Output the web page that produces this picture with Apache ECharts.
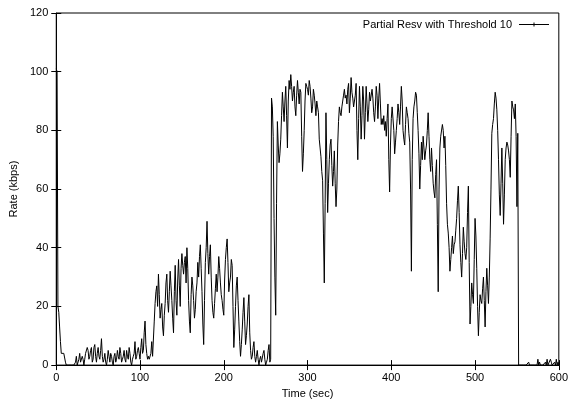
<!DOCTYPE html>
<html>
<head>
<meta charset="utf-8">
<script src="https://cdn.jsdelivr.net/npm/echarts@6/dist/echarts.min.js"></script>
<style>
  html, body { margin: 0; padding: 0; background: #fff; }
  #chart { width: 571px; height: 404px; }
</style>
</head>
<body>
<div id="chart"></div>
<script>
// Receive rate (kbps), one sample per second starting at t = 0 s
const sampleIntervalSec = 1;
const rates = [
  101,100,20,18,13,8,4,4,4,4,          // 0-9
  4,1,0,0,0,0,0,0,0,0,                 // 10-19
  0,0,0,1,3,0,0,2,4,1,                 // 20-29
  1,3,2,0,2,4,4,6,5,2,                 // 30-39
  3,5,6,1,2,6,7,3,1,4,                 // 40-49
  6,3,2,5,9,3,1,2,4,1,                 // 50-59
  0,2,5,3,1,4,3,1,0,3,                 // 60-69
  4,1,2,5,3,2,6,4,1,2,                 // 70-79
  3,5,2,1,5,3,2,6,4,1,                 // 80-89
  0,2,3,4,8,2,3,5,6,4,                 // 90-99
  2,6,9,4,5,11,15,7,4,2,               // 100-109
  3,2,2,4,8,3,3,15,21,25,              // 110-119
  27,20,31,24,16,19,21,13,10,17,       // 120-129
  21,28,31,22,18,25,32,27,22,16,       // 130-139
  11,25,34,22,17,29,36,27,20,33,       // 140-149
  38,34,31,35,37,28,40,33,22,15,       // 150-159
  11,24,30,27,22,16,19,25,28,35,       // 160-169
  30,37,41,33,25,14,7,22,35,40,        // 170-179
  49,38,31,37,41,30,22,18,16,21,       // 180-189
  26,31,25,30,37,33,28,24,22,19,       // 190-199
  17,29,36,40,43,35,25,28,30,36,       // 200-209
  34,20,6,12,20,27,30,22,15,8,         // 210-219
  3,7,12,18,23,15,7,10,14,20,          // 220-229
  24,11,5,2,3,6,8,3,1,3,               // 230-239
  5,2,0,2,3,1,1,4,5,2,                 // 240-249
  0,1,2,5,7,1,2,91,88,78,              // 250-259
  50,30,17,55,83,75,69,72,77,85,       // 260-269
  93,88,83,90,95,85,74,90,97,94,       // 270-279
  99,95,90,93,95,88,85,92,97,93,       // 280-289
  89,94,93,78,66,72,80,90,96,95,       // 290-299
  94,92,97,95,91,86,88,94,92,89,       // 300-309
  85,90,88,86,77,74,71,66,63,45,       // 310-319
  28,55,86,70,52,62,70,75,77,68,       // 320-329
  61,66,73,62,54,60,75,83,88,86,       // 330-339
  85,88,90,92,94,91,92,89,94,96,       // 340-349
  86,91,98,93,91,88,88,92,96,80,       // 350-359
  70,84,95,88,77,85,95,90,77,86,       // 360-369
  95,89,83,87,93,90,90,94,91,86,       // 370-379
  83,88,95,92,84,91,96,89,82,84,       // 380-389
  82,85,80,83,78,84,89,70,59,75,       // 390-399
  84,88,88,80,72,76,80,84,89,86,       // 400-409
  82,88,95,90,80,77,75,82,88,86,       // 410-419
  84,79,76,60,32,70,84,88,90,93,       // 420-429
  92,86,80,72,60,68,76,70,78,74,       // 430-439
  70,73,75,80,86,78,70,66,74,68,       // 440-449
  62,59,57,65,70,48,25,60,74,78,       // 450-459
  78,82,80,74,78,68,55,48,45,40,       // 460-469
  32,36,40,44,38,41,42,46,50,56,       // 470-479
  61,52,41,35,30,38,47,42,38,36,       // 480-489
  40,52,61,35,14,20,28,24,21,36,       // 490-499
  50,44,33,20,10,18,24,22,21,26,       // 500-509
  30,22,13,25,33,27,21,30,43,60,       // 510-519
  79,82,84,89,93,91,87,80,70,58,       // 520-529
  51,62,74,62,48,58,70,74,76,75,       // 530-539
  73,70,64,78,90,88,87,84,89,78,       // 540-549
  54,79,0,0,0,0,0,0,0,0,               // 550-559
  0,0,0,0,1,0,0,0,0,0,                 // 560-569
  0,0,0,0,0,2,0,1,0,0,                 // 570-579
  0,0,0,0,1,0,2,0,0,0,                 // 580-589
  2,1,0,0,0,1,0,2,0,1,                 // 590-599
  0                                    // 600
];

const seriesName = 'Partial Resv with Threshold 10';
const yTicks = [0, 20, 40, 60, 80, 100, 120];
const xTicks = [0, 100, 200, 300, 400, 500, 600];

const points = rates.map((v, i) => [i * sampleIntervalSec, v]);

const font = 'Liberation Sans, Arial, Helvetica, sans-serif';
const chart = echarts.init(document.getElementById('chart'), null, { renderer: 'canvas' });

const tickStyle = { show: true, inside: true, length: 5, lineStyle: { color: '#000', width: 1 } };

chart.setOption({
  animation: false,
  backgroundColor: '#fff',
  textStyle: { fontFamily: font },
  grid: {
    left: 56, right: 7, top: 13, bottom: 35,
    show: true, borderColor: '#000', borderWidth: 1, backgroundColor: 'transparent'
  },
  legend: {
    show: true,
    right: 17, top: 14,
    align: 'right',
    itemWidth: 30, itemHeight: 5, itemGap: 0,
    icon: 'path://M0,2 L30,2 L30,3 L0,3 Z M14.5,0.5 L15.5,0.5 L15.5,4.5 L14.5,4.5 Z',
    textStyle: { fontFamily: font, fontSize: 11, color: '#000', padding: [0, 2, 0, 0] },
    itemStyle: { color: '#000' },
    data: [seriesName]
  },
  xAxis: [{
    type: 'value',
    min: xTicks[0], max: xTicks[xTicks.length - 1], interval: 100,
    name: 'Time (sec)', nameLocation: 'middle', nameGap: 21,
    nameTextStyle: { fontFamily: font, fontSize: 11, color: '#000' },
    axisLine: { show: true, onZero: false, lineStyle: { color: '#000', width: 1 } },
    axisTick: tickStyle,
    axisLabel: { fontFamily: font, fontSize: 11, color: '#000', margin: 7 },
    splitLine: { show: false }
  }, {
    type: 'value', position: 'top',
    min: xTicks[0], max: xTicks[xTicks.length - 1], interval: 100,
    axisLine: { show: false }, axisTick: tickStyle,
    axisLabel: { show: false }, splitLine: { show: false }
  }],
  yAxis: [{
    type: 'value',
    min: yTicks[0], max: yTicks[yTicks.length - 1], interval: 20,
    name: 'Rate (kbps)', nameLocation: 'middle', nameGap: 29, nameRotate: 90,
    nameTextStyle: { fontFamily: font, fontSize: 11, color: '#000' },
    axisLine: { show: true, onZero: false, lineStyle: { color: '#000', width: 1 } },
    axisTick: tickStyle,
    axisLabel: { fontFamily: font, fontSize: 11, color: '#000', margin: 8 },
    splitLine: { show: false }
  }, {
    type: 'value', position: 'right',
    min: yTicks[0], max: yTicks[yTicks.length - 1], interval: 20,
    axisLine: { show: false }, axisTick: tickStyle,
    axisLabel: { show: false }, splitLine: { show: false }
  }],
  series: [{
    name: seriesName,
    type: 'line',
    xAxisIndex: 0, yAxisIndex: 0,
    data: points,
    showSymbol: false,
    symbol: 'none',
    lineStyle: { color: '#000', width: 1 },
    itemStyle: { color: '#000' },
    clip: true
  }]
});
</script>
</body>
</html>
